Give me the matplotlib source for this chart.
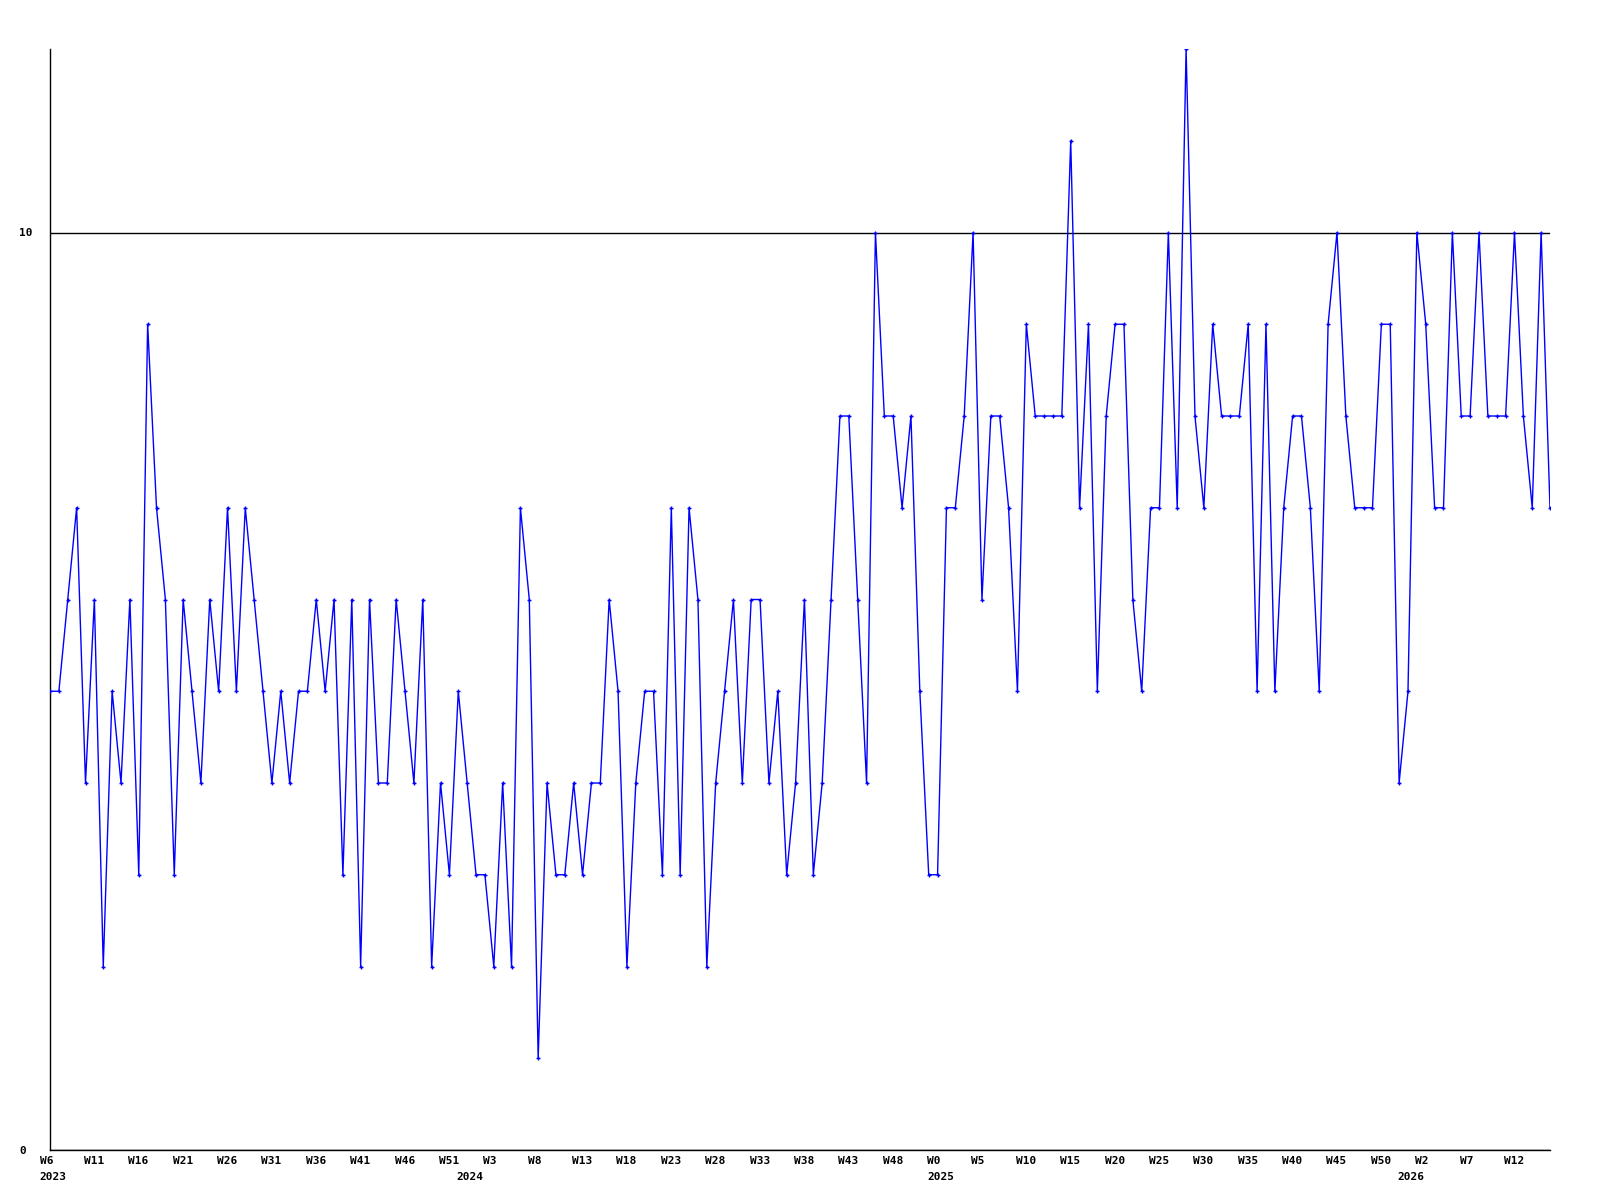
import matplotlib
matplotlib.use("Agg")
import matplotlib.pyplot as plt
from matplotlib.transforms import ScaledTranslation
import numpy as np

# weekly values, starting 2023 W6
values = [
    5, 5, 6, 7, 4, 6, 2, 5, 4, 6,
    3, 9, 7, 6, 3, 6, 5, 4, 6, 5,
    7, 5, 7, 6, 5, 4, 5, 4, 5, 5,
    6, 5, 6, 3, 6, 2, 6, 4, 4, 6,
    5, 4, 6, 2, 4, 3, 5, 4, 3, 3,
    2, 4, 2, 7, 6, 1, 4, 3, 3, 4,
    3, 4, 4, 6, 5, 2, 4, 5, 5, 3,
    7, 3, 7, 6, 2, 4, 5, 6, 4, 6,
    6, 4, 5, 3, 4, 6, 3, 4, 6, 8,
    8, 6, 4, 10, 8, 8, 7, 8, 5, 3,
    3, 7, 7, 8, 10, 6, 8, 8, 7, 5,
    9, 8, 8, 8, 8, 11, 7, 9, 5, 8,
    9, 9, 6, 5, 7, 7, 10, 7, 12, 8,
    7, 9, 8, 8, 8, 9, 5, 9, 5, 7,
    8, 8, 7, 5, 9, 10, 8, 7, 7, 7,
    9, 9, 4, 5, 10, 9, 7, 7, 10, 8,
    8, 10, 8, 8, 8, 10, 8, 7, 10, 7,
]

week_labels = ["W6", "W11", "W16", "W21", "W26", "W31", "W36", "W41", "W46", "W51",
               "W3", "W8", "W13", "W18", "W23", "W28", "W33", "W38", "W43", "W48",
               "W0", "W5", "W10", "W15", "W20", "W25", "W30", "W35", "W40", "W45",
               "W50", "W2", "W7", "W12"]
week_label_idx = [0, 5, 10, 15, 20, 25, 30, 35, 40, 45,
                  50, 55, 60, 65, 70, 75, 80, 85, 90, 95,
                  100, 105, 110, 115, 120, 125, 130, 135, 140, 145,
                  150, 155, 160, 165]
year_labels = ["2023", "2024", "2025", "2026"]
year_label_idx = [0, 47, 100, 153]

y_ticks = [0, 10]
y_tick_labels = ["0", "10"]

font = dict(family="DejaVu Sans Mono", weight="bold", size=8)

fig = plt.figure(figsize=(16, 12), dpi=100)
ax = fig.add_axes([50 / 1600, 50 / 1200, 1500 / 1600, 1101 / 1200])

x = np.arange(len(values))
ax.plot(x, values, color="#0000ff", lw=1.0, marker="+", markersize=3,
        markeredgewidth=1.0, zorder=3)

ax.set_xlim(0, len(values) - 1)
ax.set_ylim(0, 12)

for s in ["top", "right"]:
    ax.spines[s].set_visible(False)
for s in ["left", "bottom"]:
    ax.spines[s].set_color("black")
    ax.spines[s].set_linewidth(1.0)

ax.set_yticks(y_ticks)
ax.set_yticklabels(y_tick_labels, fontdict=font)
ax.tick_params(axis="y", length=0, pad=22)
for lab in ax.get_yticklabels():
    lab.set_horizontalalignment("left")
ax.yaxis.grid(True, color="black", lw=1.0)
ax.set_axisbelow(True)

ax.xaxis.remove_overlapping_locs = False
ax.set_xticks(week_label_idx)
ax.set_xticklabels(week_labels, fontdict=font)
ax.set_xticks(year_label_idx, minor=True)
ax.set_xticklabels(year_labels, minor=True, fontdict=font)
ax.tick_params(axis="x", which="major", length=0, pad=4)
ax.tick_params(axis="x", which="minor", length=0, pad=16)
off = ScaledTranslation(-10.5 / 100, 0, fig.dpi_scale_trans)
for lab in ax.get_xticklabels() + ax.get_xticklabels(minor=True):
    lab.set_horizontalalignment("left")
    lab.set_transform(lab.get_transform() + off)

fig.savefig("out.png", dpi=100)
